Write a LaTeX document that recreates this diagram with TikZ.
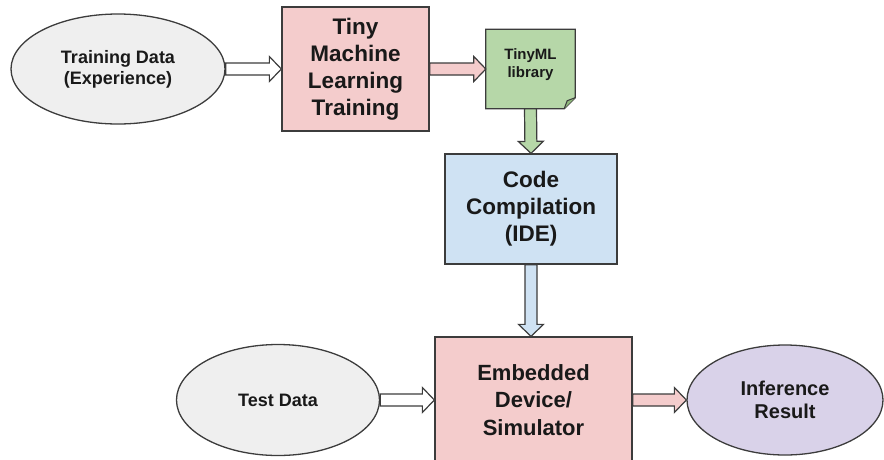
\documentclass[tikz,border=0pt]{standalone}
\usepackage{fontspec}
\setmainfont{Liberation Sans}
\usetikzlibrary{shapes.geometric, calc, backgrounds}

\definecolor{edgegray}{HTML}{3C3C3C}
\definecolor{datagray}{HTML}{EFEFEF}
\definecolor{stepred}{HTML}{F4CCCC}
\definecolor{libgreen}{HTML}{B6D7A8}
\definecolor{foldgreen}{HTML}{8FB87C}
\definecolor{idblue}{HTML}{CFE2F3}
\definecolor{resviolet}{HTML}{D9D2E9}

\newcommand{\fatarrow}[3]{%
  \coordinate (h) at ($(#2)!12pt!(#1)$);
  \filldraw[arrowline, fill=#3]
    ($(#1)!6pt!90:(#2)$) -- ($(h)!6pt!90:(#2)$) -- ($(h)!12.5pt!90:(#2)$) -- (#2)
    -- ($(h)!12.5pt!-90:(#2)$) -- ($(h)!6pt!-90:(#2)$) -- ($(#1)!6pt!-90:(#2)$) -- cycle;}

\begin{document}
\begin{tikzpicture}[x=1pt, y=-1pt,
  blob/.style={ellipse, draw=edgegray, line width=1.3pt, inner sep=0pt, align=center,
    text=black!90, font=\bfseries\fontsize{18}{21}\selectfont},
  stepbox/.style={rectangle, draw=edgegray, line width=1.3pt, inner sep=0pt, align=center,
    text=black!90, font=\bfseries\fontsize{22.5}{27}\selectfont},
  arrowline/.style={draw=edgegray, line width=1.2pt, line join=miter}]
\useasboundingbox (0,0) rectangle (884,459);

\node (train) [blob, fill=datagray, minimum width=214pt, minimum height=110pt] at (118,69)
  {Training Data\\(Experience)};
\node (tml) [stepbox, fill=stepred, minimum width=147pt, minimum height=124pt] at (355.5,69)
  {Tiny\\Machine\\Learning\\Training};
\node (lib) [rectangle, inner sep=0pt, minimum width=89pt, minimum height=79pt, align=center,
  text=black!90, font=\bfseries\fontsize{15}{18}\selectfont, text depth=12pt] at (530.5,69)
  {TinyML\\library};
\begin{scope}[on background layer]
  \filldraw[arrowline, fill=libgreen] (lib.north west) -- (lib.north east)
    -- ($(lib.south east)+(0,-11)$) -- ($(lib.south east)+(-11,0)$) -- (lib.south west) -- cycle;
  \filldraw[arrowline, fill=foldgreen, line width=1pt] ($(lib.south east)+(0,-11)$)
    -- ($(lib.south east)+(-8,-8)$) -- ($(lib.south east)+(-11,0)$);
\end{scope}
\node (code) [stepbox, fill=idblue, minimum width=172pt, minimum height=110pt] at (531,209)
  {Code\\Compilation\\(IDE)};
\node (embed) [stepbox, fill=stepred, minimum width=197pt, minimum height=126pt,
  font=\bfseries\fontsize{22}{27.5}\selectfont] at (533.5,400)
  {Embedded\\Device/\\Simulator};
\node (test) [blob, fill=datagray, minimum width=203pt, minimum height=111pt] at (278,400)
  {Test Data};
\node (inf) [blob, fill=resviolet, minimum width=196pt, minimum height=110pt,
  font=\bfseries\fontsize{20}{23}\selectfont] at (785,400) {Inference\\Result};

\fatarrow{train.east}{tml.west}{white}
\fatarrow{tml.east}{lib.west}{stepred}
\fatarrow{lib.south}{code.north}{libgreen}
\fatarrow{code.south}{code.south |- embed.north}{idblue}
\fatarrow{test.east}{embed.west}{white}
\fatarrow{embed.east}{inf.west}{stepred}
\end{tikzpicture}
\end{document}
